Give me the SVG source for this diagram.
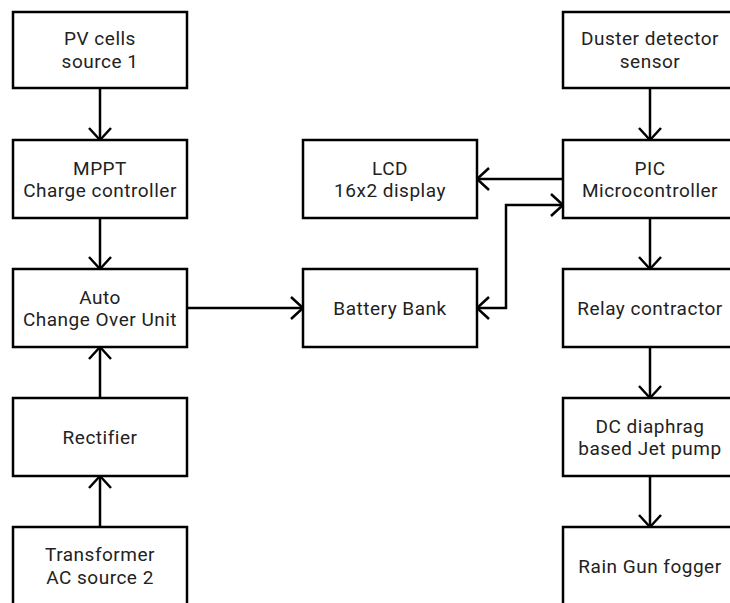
<svg xmlns="http://www.w3.org/2000/svg" width="730" height="603" viewBox="0 0 730 603">
<defs>
<style>
rect.box{fill:#fff;stroke:#000;stroke-width:2.5}
text{font-family:Roboto,"Liberation Sans",sans-serif;font-size:19px;fill:#222;text-anchor:middle;letter-spacing:0.5px}
.conn path{fill:none;stroke:#000;stroke-width:2.5}
</style>
<marker id="arr" markerUnits="userSpaceOnUse" markerWidth="30" markerHeight="30" refX="0" refY="0" viewBox="-16 -15 20 30" orient="auto-start-reverse">
<path d="M -12 -11 L 0 0 L -12 11" fill="none" stroke="#000" stroke-width="2.5"/>
</marker>
</defs>
<rect width="730" height="603" fill="#fff"/>
<g class="conn">
<path d="M100 88 V140" marker-end="url(#arr)"/>
<path d="M100 218 V269" marker-end="url(#arr)"/>
<path d="M100 398 V347" marker-end="url(#arr)"/>
<path d="M100 527 V476" marker-end="url(#arr)"/>
<path d="M187 308 H303" marker-end="url(#arr)"/>
<path d="M563 179 H477" marker-end="url(#arr)"/>
<path d="M477 308 H506 V205 H563" marker-start="url(#arr)" marker-end="url(#arr)"/>
<path d="M650 88 V140" marker-end="url(#arr)"/>
<path d="M650 218 V269" marker-end="url(#arr)"/>
<path d="M650 347 V398" marker-end="url(#arr)"/>
<path d="M650 476 V527" marker-end="url(#arr)"/>
</g>
<g id="pv"><rect class="box" x="13" y="12" width="174" height="76"/><text x="100" y="45">PV cells</text><text x="100" y="68">source 1</text></g>
<g id="mppt"><rect class="box" x="13" y="140" width="174" height="78"/><text x="100" y="175">MPPT</text><text x="100" y="197">Charge controller</text></g>
<g id="auto"><rect class="box" x="13" y="269" width="174" height="78"/><text x="100" y="304">Auto</text><text x="100" y="326">Change Over Unit</text></g>
<g id="rectifier"><rect class="box" x="13" y="398" width="174" height="78"/><text x="100" y="443.5">Rectifier</text></g>
<g id="transformer"><rect class="box" x="13" y="527" width="174" height="90"/><text x="100" y="561">Transformer</text><text x="100" y="584">AC source 2</text></g>
<g id="lcd"><rect class="box" x="303" y="140" width="174" height="78"/><text x="390" y="175">LCD</text><text x="390" y="197">16x2 display</text></g>
<g id="battery"><rect class="box" x="303" y="269" width="174" height="78"/><text x="390" y="314.5">Battery Bank</text></g>
<g id="duster"><rect class="box" x="563" y="12" width="174" height="76"/><text x="650" y="45">Duster detector</text><text x="650" y="68">sensor</text></g>
<g id="pic"><rect class="box" x="563" y="140" width="174" height="78"/><text x="650" y="175">PIC</text><text x="650" y="197">Microcontroller</text></g>
<g id="relay"><rect class="box" x="563" y="269" width="174" height="78"/><text x="650" y="314.5">Relay contractor</text></g>
<g id="pump"><rect class="box" x="563" y="398" width="174" height="78"/><text x="650" y="433">DC diaphrag</text><text x="650" y="455">based Jet pump</text></g>
<g id="fogger"><rect class="box" x="563" y="527" width="174" height="90"/><text x="650" y="572.5">Rain Gun fogger</text></g>
</svg>
